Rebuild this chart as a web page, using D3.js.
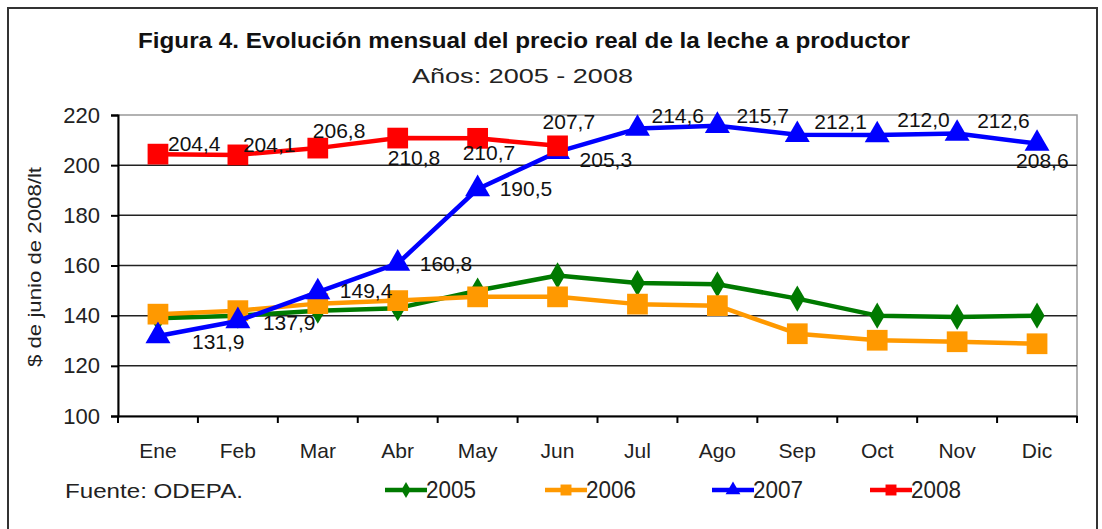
<!DOCTYPE html>
<html>
<head>
<meta charset="utf-8">
<script src="https://cdn.jsdelivr.net/npm/d3@7/dist/d3.min.js"></script>
<style>
  body { margin: 0; background: #fff; }
  svg { font-family: "Liberation Sans", Arial, sans-serif; }
</style>
</head>
<body>
<svg id="chart" width="1102" height="529"></svg>
<script>
const months = ["Ene","Feb","Mar","Abr","May","Jun","Jul","Ago","Sep","Oct","Nov","Dic"];
const yTicks = [100, 120, 140, 160, 180, 200, 220];

const v2005 = [139, 140, 142, 143, 150, 156, 153, 152.5, 146.8, 140, 139.5, 140];
const v2006 = [140.6, 142, 144.8, 146, 147.5, 147.5, 144.6, 144, 132.8, 130.2, 129.6, 128.8];
const v2007 = [131.9, 137.9, 149.4, 160.8, 190.5, 205.3, 214.6, 215.7, 212.1, 212.0, 212.6, 208.6];
const v2008 = [204.4, 204.1, 206.8, 210.8, 210.7, 207.7];

const labels2007 = ["131,9","137,9","149,4","160,8","190,5","205,3","214,6","215,7","212,1","212,0","212,6","208,6"];
const labels2008 = ["204,4","204,1","206,8","210,8","210,7","207,7"];

// label offsets from the point (Excel placed them a bit unevenly)
const off2007 = [[34,6],[25,2],[22,-1],[22,0],[22,0],[22,8],[14,-13],[19,-10],[17,-13],[20,-15],[20,-13],[-21,17]];
const off2008 = [[10,-10],[5,-10],[-5,-17],[-10,20],[-15,14],[-15,-24]];

const series = [
  {name: "2005", values: v2005, color: "#007a00", shape: "diamond"},
  {name: "2006", values: v2006, color: "#ff9900", shape: "square"},
  {name: "2007", values: v2007, color: "#0000ff", shape: "triangle", labels: labels2007, off: off2007},
  {name: "2008", values: v2008, color: "#ff0000", shape: "square", labels: labels2008, off: off2008}
];

const svg = d3.select("#chart");
const L = 118, R = 1077, T = 115, B = 416;

const x = d3.scaleBand().domain(months).range([L, R]);
const xc = m => x(m) + x.bandwidth() / 2;
const y = d3.scaleLinear().domain([100, 220]).range([B, T]);

// outer frame
svg.append("rect").attr("x", 8).attr("y", 8).attr("width", 1089).attr("height", 540)
  .attr("fill", "none").attr("stroke", "#333").attr("stroke-width", 2);

// titles (stretched a little, the original is a scaled-up bitmap)
svg.append("text").attr("x", 138).attr("y", 48)
  .attr("font-size", 22).attr("font-weight", "bold").attr("fill", "#111")
  .attr("textLength", 772).attr("lengthAdjust", "spacingAndGlyphs")
  .text("Figura 4. Evolución mensual del precio real de la leche a productor");
svg.append("text").attr("x", 412).attr("y", 83)
  .attr("font-size", 21).attr("fill", "#222")
  .attr("textLength", 221).attr("lengthAdjust", "spacingAndGlyphs")
  .text("Años: 2005 - 2008");

// plot border (gray top/right)
svg.append("rect").attr("x", L).attr("y", T).attr("width", R - L).attr("height", B - T)
  .attr("fill", "none").attr("stroke", "#999").attr("stroke-width", 1.5);

// gridlines
svg.append("g").selectAll("line").data(yTicks.filter(t => t > 100 && t < 220)).join("line")
  .attr("x1", L).attr("x2", R).attr("y1", d => y(d)).attr("y2", d => y(d))
  .attr("stroke", "#222").attr("stroke-width", 1.5);

// y axis
const yAxis = svg.append("g").attr("transform", `translate(${L},0)`)
  .call(d3.axisLeft(y).tickValues(yTicks).tickSize(7).tickPadding(11).tickFormat(d3.format("d")));
yAxis.select(".domain").attr("stroke", "#000").attr("stroke-width", 2);
yAxis.selectAll(".tick line").attr("stroke", "#000").attr("stroke-width", 2);
yAxis.selectAll("text").attr("font-size", 22).attr("fill", "#222")
  .attr("font-family", "'Liberation Sans', Arial, sans-serif");

svg.append("text").attr("transform", `translate(41,267) rotate(-90)`)
  .attr("text-anchor", "middle").attr("font-size", 19).attr("fill", "#222")
  .attr("textLength", 200).attr("lengthAdjust", "spacingAndGlyphs")
  .text("$ de junio de 2008/lt");

// x axis
const xAxis = svg.append("g").attr("transform", `translate(0,${B})`)
  .call(d3.axisBottom(x).tickSize(0).tickPadding(27));
xAxis.select(".domain").attr("stroke", "#000").attr("stroke-width", 2);
xAxis.selectAll("text").attr("font-size", 21).attr("fill", "#222")
  .attr("font-family", "'Liberation Sans', Arial, sans-serif");
svg.append("g").selectAll("line").data([...months.map(m => x(m)), R]).join("line")
  .attr("x1", d => d).attr("x2", d => d).attr("y1", B).attr("y2", B + 7)
  .attr("stroke", "#000").attr("stroke-width", 2);

// markers
const sym = {
  diamond: d3.symbol().type(d3.symbolDiamond).size(200),
  square: d3.symbol().type(d3.symbolSquare).size(430),
  triangle: d3.symbol().type(d3.symbolTriangle).size(270)
};
const symSmall = {
  diamond: d3.symbol().type(d3.symbolDiamond).size(75),
  square: d3.symbol().type(d3.symbolSquare).size(120),
  triangle: d3.symbol().type(d3.symbolTriangle).size(95)
};

const line = d3.line().x((d, i) => xc(months[i])).y(d => y(d));

series.forEach(s => {
  const g = svg.append("g");
  g.append("path").attr("d", line(s.values)).attr("fill", "none")
    .attr("stroke", s.color).attr("stroke-width", 4.5).attr("stroke-linejoin", "round");
  g.selectAll("path.m").data(s.values).join("path").attr("class", "m")
    .attr("transform", (d, i) => `translate(${xc(months[i])},${y(d)})`)
    .attr("d", sym[s.shape]()).attr("fill", s.color);
});

// data labels on top
series.filter(s => s.labels).forEach(s => {
  svg.append("g").selectAll("text").data(s.labels).join("text")
    .attr("x", (d, i) => xc(months[i]) + s.off[i][0])
    .attr("y", (d, i) => y(s.values[i]) + s.off[i][1])
    .attr("dy", "0.35em").attr("font-size", 21).attr("fill", "#111")
    .text(d => d);
});

// footer + legend
svg.append("text").attr("x", 65).attr("y", 498).attr("font-size", 20).attr("fill", "#222")
  .attr("textLength", 178).attr("lengthAdjust", "spacingAndGlyphs")
  .text("Fuente: ODEPA.");

const legX = [385, 545, 712, 870];
const lg = svg.append("g").selectAll("g").data(series).join("g")
  .attr("transform", (d, i) => `translate(${legX[i]},490)`);
lg.append("line").attr("x1", 0).attr("x2", 42).attr("stroke", d => d.color).attr("stroke-width", 4.5);
lg.append("path").attr("transform", "translate(21,0)").attr("d", d => symSmall[d.shape]())
  .attr("fill", d => d.color);
lg.append("text").attr("x", 41).attr("dy", "0.36em").attr("font-size", 23).attr("fill", "#222")
  .attr("textLength", 50).attr("lengthAdjust", "spacingAndGlyphs")
  .text(d => d.name);
</script>
</body>
</html>
